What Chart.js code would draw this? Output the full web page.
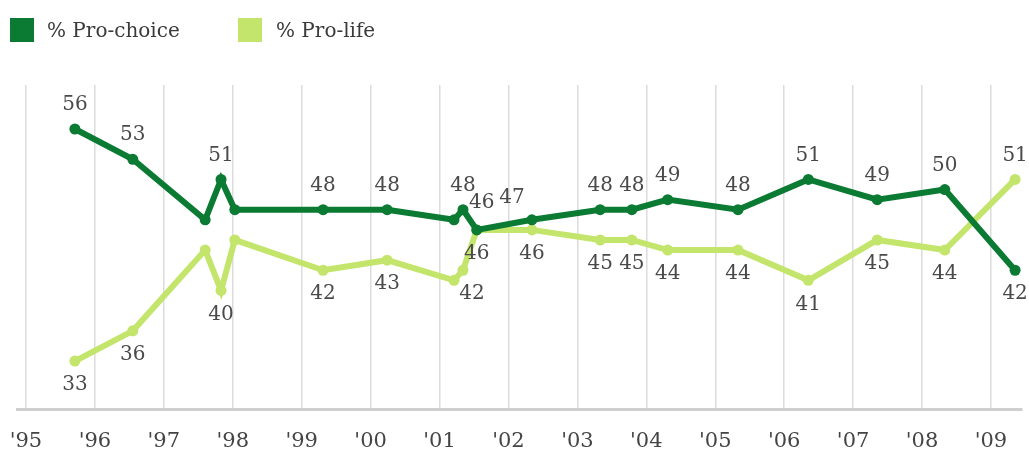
<!DOCTYPE html>
<html>
<head>
<meta charset="utf-8">
<script src="https://cdn.jsdelivr.net/npm/chart.js@4.4.1/dist/chart.umd.min.js"></script>
<style>
  html, body { margin: 0; padding: 0; background: #ffffff; }
  #wrap { position: relative; width: 1029px; height: 457px; }
  #c { position: absolute; left: 0; top: 0; }
  .lg-box { position: absolute; width: 24px; height: 24px; top: 18px; }
  .lg-text { position: absolute; top: 17px; font: 20px "DejaVu Serif", serif; color: #3a3a3a; line-height: 26px; white-space: nowrap; }
</style>
</head>
<body>
<div id="wrap">
  <canvas id="c" width="1029" height="457"></canvas>
  <div class="lg-box" style="left:10px;background:#0b7a32;"></div>
  <div class="lg-text" style="left:47px;">% Pro-choice</div>
  <div class="lg-box" style="left:238px;background:#c3e56c;"></div>
  <div class="lg-text" style="left:276px;">% Pro-life</div>
</div>
<script>
// ---- data ----
const surveyDates = [1995.71, 1996.55, 1997.60, 1997.83, 1998.03, 1999.31, 2000.24, 2001.21, 2001.34, 2001.54, 2002.34, 2003.33, 2003.79, 2004.31, 2005.33, 2006.35, 2007.35, 2008.33, 2009.35];
const proChoice   = [56, 53, 47, 51, 48, 48, 48, 47, 48, 46, 47, 48, 48, 49, 48, 51, 49, 50, 42];
const proLife     = [33, 36, 44, 40, 45, 42, 43, 41, 42, 46, 46, 45, 45, 44, 44, 41, 45, 44, 51];
const labeledPoints = [true, true, false, true, false, true, true, false, true, true, true, true, true, true, true, true, true, true, true];
const yearTicks  = [1995, 1996, 1997, 1998, 1999, 2000, 2001, 2002, 2003, 2004, 2005, 2006, 2007, 2008, 2009];
const yearLabels = ["'95", "'96", "'97", "'98", "'99", "'00", "'01", "'02", "'03", "'04", "'05", "'06", "'07", "'08", "'09"];
const seriesNames = ["% Pro-choice", "% Pro-life"];

const DARK = '#0b7a32';
const LIGHT = '#c3e56c';

function toPoints(vals) {
  return surveyDates.map((d, i) => ({ x: d, y: vals[i] }));
}

// label placement tweaks (style only)
const labelNudge = {
  0: { 9: { dx: 5, dy: -3 }, 10: { dx: -20, dy: 2 } },
  1: { 8: { dx: 9, dy: 0 } }
};

const valueLabels = {
  id: 'valueLabels',
  afterDatasetsDraw(chart) {
    const ctx = chart.ctx;
    ctx.save();
    ctx.font = '20px "DejaVu Serif", serif';
    ctx.fillStyle = '#4a4a4a';
    ctx.textAlign = 'center';
    ctx.textBaseline = 'middle';
    const sets = chart.data.datasets;
    sets.forEach((ds, di) => {
      const meta = chart.getDatasetMeta(di);
      const other = sets[1 - di].data;
      meta.data.forEach((pt, i) => {
        if (!labeledPoints[i]) return;
        const v = ds.data[i].y;
        const ov = other[i].y;
        let above = di === 0 ? v >= ov : v > ov;
        let dy = above ? -24 : 24;
        let dx = 0;
        const n = labelNudge[di] && labelNudge[di][i];
        if (n) { dx += n.dx; dy += n.dy; }
        ctx.fillText(String(v), pt.x + dx, pt.y + dy);
      });
    });
    ctx.restore();
  }
};

const lineStyle = {
  borderWidth: 6,
  pointRadius: 5.5,
  pointHoverRadius: 5.5,
  pointBorderWidth: 0,
  tension: 0,
  clip: false
};

new Chart(document.getElementById('c'), {
  type: 'line',
  data: {
    datasets: [
      Object.assign({ label: seriesNames[0], data: toPoints(proChoice), borderColor: DARK, backgroundColor: DARK }, lineStyle),
      Object.assign({ label: seriesNames[1], data: toPoints(proLife), borderColor: LIGHT, backgroundColor: LIGHT }, lineStyle)
    ]
  },
  options: {
    responsive: false,
    animation: false,
    devicePixelRatio: 1,
    layout: { padding: { left: 17, right: 7, top: 85, bottom: 0 } },
    plugins: {
      legend: { display: false },
      tooltip: { enabled: false }
    },
    scales: {
      x: {
        type: 'linear',
        min: 1994.87,
        max: 2009.45,
        afterBuildTicks(scale) {
          scale.ticks = yearTicks.map(v => ({ value: v }));
        },
        afterFit(scale) {
          scale.paddingLeft = 0;
          scale.paddingRight = 0;
          scale.height = 48;
        },
        grid: {
          color: '#dcdcdc',
          lineWidth: 1.5,
          drawTicks: false
        },
        border: { display: true, color: '#cfcfcf', width: 3 },
        ticks: {
          autoSkip: false,
          maxRotation: 0,
          padding: 20,
          color: '#444444',
          font: { family: '"DejaVu Serif", serif', size: 21 },
          callback(value) {
            const idx = yearTicks.indexOf(value);
            return idx >= 0 ? yearLabels[idx] : '';
          }
        }
      },
      y: {
        display: false,
        min: 28.25,
        max: 60.36
      }
    }
  },
  plugins: [valueLabels]
});
</script>
</body>
</html>
